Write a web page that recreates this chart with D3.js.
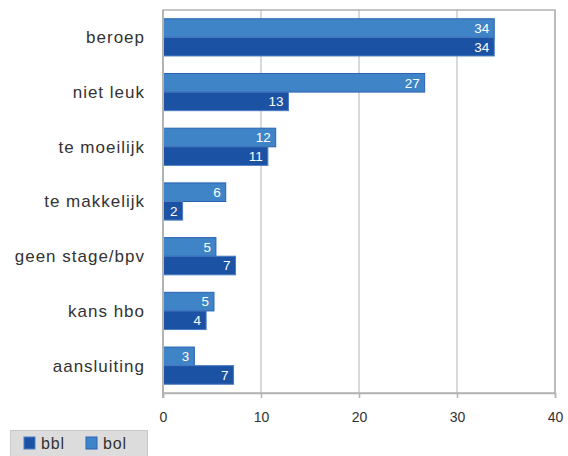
<!DOCTYPE html>
<html>
<head>
<meta charset="utf-8">
<script src="https://cdn.jsdelivr.net/npm/d3@7"></script>
<style>
  body { margin: 0; background: #fff; }
  svg { font-family: "Liberation Sans", Arial, sans-serif; }
</style>
</head>
<body>
<div id="chart"></div>
<script>
// categories, top to bottom
var categories = ["beroep", "niet leuk", "te moeilijk", "te makkelijk", "geen stage/bpv", "kans hbo", "aansluiting"];
var bol = [33.8, 26.7, 11.5, 6.4, 5.4, 5.2, 3.2];
var bbl = [33.8, 12.8, 10.7, 2.0, 7.4, 4.4, 7.2];
var seriesNames = ["bbl", "bol"];
var ticks = [0, 10, 20, 30, 40];

var colors = { bbl: "#1b52a4", bol: "#3e84c6" };
var strokes = { bbl: "#4a7cc4", bol: "#2a63b3" };

var W = 568, H = 456;
var plotL = 163, plotR = 555, plotT = 10, plotB = 393;

var svg = d3.select("#chart").append("svg")
    .attr("width", W)
    .attr("height", H);

var x = d3.scaleLinear().domain([0, 40]).range([plotL, plotR]);
var y = d3.scaleBand().domain(categories).range([plotT, plotB]).paddingInner(0.32).paddingOuter(0.16);
var sub = d3.scaleBand().domain(["bol", "bbl"]).range([0, y.bandwidth()]);

// frame
svg.append("rect")
    .attr("x", plotL).attr("y", plotT)
    .attr("width", plotR - plotL).attr("height", plotB - plotT)
    .attr("fill", "none")
    .attr("stroke", "#b3b3b3")
    .attr("stroke-width", 1.5);

// gridlines
svg.selectAll("line.grid")
    .data(ticks.slice(1))
    .enter().append("line")
    .attr("class", "grid")
    .attr("x1", d => x(d)).attr("x2", d => x(d))
    .attr("y1", plotT).attr("y2", plotB)
    .attr("stroke", "#b3b3b3")
    .attr("stroke-width", 1);

// x axis
var xAxis = svg.append("g")
    .attr("transform", "translate(0," + plotB + ")")
    .call(d3.axisBottom(x).tickValues(ticks).tickSize(5).tickPadding(14));
xAxis.select("path.domain").attr("stroke", "#b3b3b3").attr("stroke-width", 1.5);
xAxis.selectAll("line").attr("stroke", "#b3b3b3").attr("stroke-width", 1.5);
xAxis.selectAll("text")
    .style("font-size", "14px")
    .attr("fill", "#333");

// category labels
svg.selectAll("text.cat")
    .data(categories)
    .enter().append("text")
    .attr("class", "cat")
    .attr("x", 145)
    .attr("y", d => y(d) + y.bandwidth() / 2)
    .attr("dy", "0.35em")
    .attr("text-anchor", "end")
    .style("font-size", "17px")
    .style("letter-spacing", "1px")
    .attr("fill", "#333")
    .text(d => d);

var rows = [];
categories.forEach(function(c, i) {
    rows.push({ cat: c, s: "bol", v: bol[i] });
    rows.push({ cat: c, s: "bbl", v: bbl[i] });
});

var bars = svg.selectAll("g.bar")
    .data(rows)
    .enter().append("g")
    .attr("class", "bar");

bars.append("rect")
    .attr("x", x(0))
    .attr("y", d => y(d.cat) + sub(d.s))
    .attr("width", d => x(d.v) - x(0))
    .attr("height", sub.bandwidth())
    .attr("fill", d => colors[d.s])
    .attr("stroke", d => strokes[d.s])
    .attr("stroke-width", 1);

bars.append("text")
    .attr("x", d => x(d.v) - 5)
    .attr("y", d => y(d.cat) + sub(d.s) + sub.bandwidth() / 2)
    .attr("dy", "0.36em")
    .attr("text-anchor", "end")
    .style("font-size", "13.5px")
    .attr("fill", "#fff")
    .text(d => Math.round(d.v));

// left axis line
svg.append("line")
    .attr("x1", plotL).attr("x2", plotL)
    .attr("y1", plotT).attr("y2", plotB + 5)
    .attr("stroke", "#b3b3b3")
    .attr("stroke-width", 2);

// legend
var lg = svg.append("g");
lg.append("rect")
    .attr("x", 10.5).attr("y", 430.5)
    .attr("width", 137).attr("height", 26)
    .attr("fill", "#dcdcdc")
    .attr("stroke", "#c8c8c8");
var legX = [24, 86];
seriesNames.forEach(function(s, i) {
    lg.append("rect")
        .attr("x", legX[i]).attr("y", 437)
        .attr("width", 11).attr("height", 12)
        .attr("fill", colors[s])
        .attr("stroke", strokes[s]);
    lg.append("text")
        .attr("x", legX[i] + 17).attr("y", 443)
        .attr("dy", "0.36em")
        .style("font-size", "16px")
        .style("letter-spacing", "0.8px")
        .attr("fill", "#333")
        .text(s);
});
</script>
</body>
</html>
